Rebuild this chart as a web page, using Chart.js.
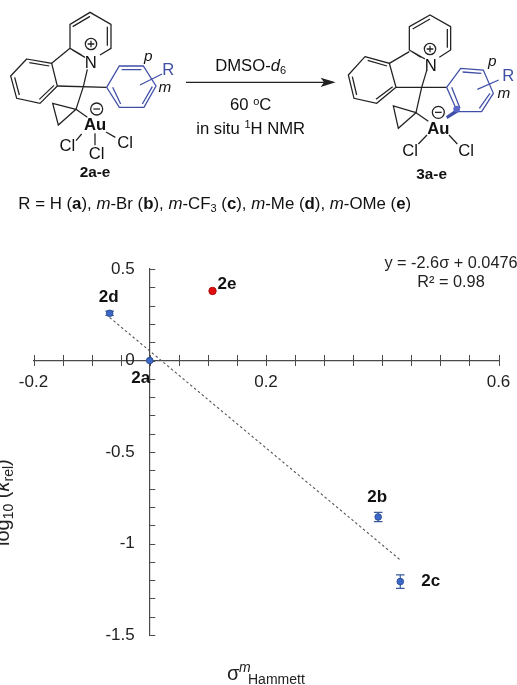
<!DOCTYPE html>
<html><head><meta charset="utf-8">
<style>
html,body{margin:0;padding:0;background:#fff;overflow:hidden}
#wrap{position:relative;width:517px;height:685px}
canvas{position:absolute;left:0;top:0}
svg{position:absolute;left:0;top:0}
svg text{font-family:"Liberation Sans",Arial,sans-serif;fill:#111}
.b{fill:none;stroke:#222;stroke-width:3.8}
.u{fill:none;stroke:#3f4fa8;stroke-width:3.8}
</style>
<script src="https://cdn.jsdelivr.net/npm/chart.js@4"></script>
</head><body><div id="wrap">
<canvas id="c" width="517" height="685"></canvas>
<svg width="517" height="240" viewBox="0 0 1551 720">
 <!-- left structure -->
 <path class="b" d="M300 165L333 145V73L270 37L210 73V145L245 165 M218 80L270 49M322 80V137M217 150L255 172"/>
 <path class="b" d="M80 177L155 190L172 258L120 310L50 295L32 228Z M88 188L148 198M162 256L118 298M58 285L44 232"/>
 <path class="b" d="M210 145L155 190M172 258L320 262M262 208L250 260L228 328M228 328L158 310L175 375ZM228 328L262 352M245 402L228 422M285 400V436M318 396L346 412"/>
 <path class="u" d="M320 262L358 198H430L468 258L432 322H358Z M365 209H424M457 260L427 312M338 262L362 312M420 255L486 222"/>
 <circle class="b" cx="273" cy="132" r="17"/><path class="b" d="M263 132H283M273 122V142"/>
 <circle class="b" cx="290" cy="327" r="18"/><path class="b" d="M280 327H300"/>
 <text x="272" y="204" font-size="50" text-anchor="middle">N</text>
 <text x="285" y="391" font-size="50" font-weight="bold" text-anchor="middle">Au</text>
 <text x="202" y="452" font-size="50" text-anchor="middle">Cl</text>
 <text x="290" y="476" font-size="50" text-anchor="middle">Cl</text>
 <text x="375" y="444" font-size="50" text-anchor="middle">Cl</text>
 <text x="445" y="184" font-size="46" font-style="italic" text-anchor="middle">p</text>
 <text x="505" y="224" font-size="50" text-anchor="middle" style="fill:#3f4fa8">R</text>
 <text x="495" y="276" font-size="46" font-style="italic" text-anchor="middle">m</text>
 <text x="285" y="530" font-size="46" font-weight="bold" text-anchor="middle">2a-e</text>
 <!-- arrow -->
 <path class="b" d="M558 247H975"/><path d="M1007 247L962 233L972 247L962 261Z" fill="#222"/>
 <text x="752" y="214" font-size="50" text-anchor="middle">DMSO-<tspan font-style="italic">d</tspan><tspan font-size="33" dy="9">6</tspan></text>
 <text x="752" y="331" font-size="50" text-anchor="middle">60 <tspan font-size="33" dy="-16">o</tspan><tspan dy="16">C</tspan></text>
 <text x="752" y="401" font-size="50" text-anchor="middle">in situ <tspan font-size="33" dy="-16">1</tspan><tspan dy="16">H NMR</tspan></text>
 <!-- right structure -->
 <path class="b" d="M1318 172L1352 150V80L1290 45L1228 80V150L1262 172 M1238 87L1290 57M1342 87V143M1236 155L1275 177"/>
 <path class="b" d="M1095 170L1168 190L1188 262L1130 310L1062 295L1045 225Z M1103 181L1161 198M1178 260L1128 298M1070 285L1057 230"/>
 <path class="b" d="M1228 155L1168 190M1188 262L1340 262M1280 212L1265 262L1248 338M1248 338L1180 318L1195 385ZM1248 338L1285 364M1281 405L1255 432M1347 405L1372 432"/>
 <path class="u" d="M1340 262L1382 205L1450 210L1480 280L1445 335H1372Z M1388 216L1444 220M1470 280L1438 325M1355 262L1380 325M1432 268L1496 240"/>
 <path d="M1370 326L1338 349L1342 357L1376 336Z" fill="#3f4fa8"/><circle cx="1370" cy="327" r="10" fill="#5a66c8"/>
 <circle class="b" cx="1290" cy="147" r="17"/><path class="b" d="M1280 147H1300M1290 137V157"/>
 <circle class="b" cx="1315" cy="337" r="18"/><path class="b" d="M1305 337H1325"/>
 <text x="1292" y="212" font-size="50" text-anchor="middle">N</text>
 <text x="1315" y="401" font-size="50" font-weight="bold" text-anchor="middle">Au</text>
 <text x="1230" y="467" font-size="50" text-anchor="middle">Cl</text>
 <text x="1398" y="467" font-size="50" text-anchor="middle">Cl</text>
 <text x="1477" y="199" font-size="46" font-style="italic" text-anchor="middle">p</text>
 <text x="1525" y="242" font-size="50" text-anchor="middle" style="fill:#3f4fa8">R</text>
 <text x="1512" y="295" font-size="46" font-style="italic" text-anchor="middle">m</text>
 <text x="1295" y="538" font-size="46" font-weight="bold" text-anchor="middle">3a-e</text>
 <!-- substituent key -->
 <text x="55" y="627" font-size="50.5">R = H (<tspan font-weight="bold">a</tspan>), <tspan font-style="italic">m</tspan>-Br (<tspan font-weight="bold">b</tspan>), <tspan font-style="italic">m</tspan>-CF<tspan font-size="33" dy="9">3</tspan><tspan dy="-9"> (</tspan><tspan font-weight="bold">c</tspan>), <tspan font-style="italic">m</tspan>-Me (<tspan font-weight="bold">d</tspan>), <tspan font-style="italic">m</tspan>-OMe (<tspan font-weight="bold">e</tspan>)</text>
</svg>
</div>
<script>
// ---- data ----
const blueLabels = ['2a', '2b', '2c', '2d'];
const blueSigma  = [0, 0.393, 0.431, -0.069];
const blueLogK   = [0, -0.855, -1.208, 0.258];
const blueError  = [0, 0.025, 0.037, 0.012];
const redLabels  = ['2e'];
const redSigma   = [0.108];
const redLogK    = [0.38];
const trendSigma = [-0.069, 0.431];
const trendLogK  = [0.235, -1.09];
const xTickLabels = [-0.2, 0.2, 0.6];
const yTickLabels = [0.5, 0, -0.5, -1, -1.5];
const equationLines = ['y = -2.6σ + 0.0476', 'R² = 0.98'];

const FONT = '"Liberation Sans", Arial, sans-serif';
const AXIS = '#4a4a4a', TEXT = '#222';
const zip = (xs, ys) => xs.map((x, i) => ({x, y: ys[i]}));
const near = (list, v) => list.some(t => Math.abs(t - v) < 1e-6);

// offsets of each mark's label relative to its point
const labelOffset = {'2a':[-9,18,'center'],'2b':[-1,-20,'center'],'2c':[21,0,'left'],'2d':[-1,-16,'center'],'2e':[5,-7,'left']};

const annotate = {
  id: 'annotate',
  beforeDatasetsDraw(chart) {
    const {ctx, scales:{x, y}} = chart;
    ctx.save();
    ctx.strokeStyle = AXIS; ctx.lineWidth = 1;
    x.ticks.forEach(t => {
      const px = Math.round(x.getPixelForValue(t.value)) + .5, py = y.getPixelForValue(0);
      ctx.beginPath(); ctx.moveTo(px, py - 5.5); ctx.lineTo(px, py + 5.5); ctx.stroke();
    });
    y.ticks.forEach(t => {
      const py = Math.round(y.getPixelForValue(t.value)) + .5, px = x.getPixelForValue(0);
      ctx.beginPath(); ctx.moveTo(px, py); ctx.lineTo(px + 5.5, py); ctx.stroke();
    });
    // y tick labels sit 15px left of the crossing axis
    ctx.fillStyle = TEXT; ctx.font = '17px ' + FONT; ctx.textAlign = 'right'; ctx.textBaseline = 'middle';
    yTickLabels.forEach(v => ctx.fillText(String(v), x.getPixelForValue(0) - 15, y.getPixelForValue(v)));
    // error bars
    ctx.strokeStyle = '#3a5a9c'; ctx.lineWidth = 1.2;
    blueSigma.forEach((s, i) => {
      if (!blueError[i]) return;
      const px = x.getPixelForValue(s);
      const a = y.getPixelForValue(blueLogK[i] + blueError[i]), b = y.getPixelForValue(blueLogK[i] - blueError[i]);
      ctx.beginPath();
      ctx.moveTo(px, a); ctx.lineTo(px, b);
      ctx.moveTo(px - 4.3, a); ctx.lineTo(px + 4.3, a);
      ctx.moveTo(px - 4.3, b); ctx.lineTo(px + 4.3, b);
      ctx.stroke();
    });
    ctx.restore();
  },
  afterDatasetsDraw(chart) {
    const {ctx, scales:{x, y}} = chart;
    ctx.save();
    ctx.fillStyle = '#111'; ctx.textBaseline = 'middle';
    ctx.font = 'bold 17px ' + FONT;
    const put = (l, sx, sy) => {
      const o = labelOffset[l]; ctx.textAlign = o[2];
      ctx.fillText(l, x.getPixelForValue(sx) + o[0], y.getPixelForValue(sy) + o[1]);
    };
    blueLabels.forEach((l, i) => put(l, blueSigma[i], blueLogK[i]));
    redLabels.forEach((l, i) => put(l, redSigma[i], redLogK[i]));
    // equation
    ctx.fillStyle = TEXT; ctx.font = '16.3px ' + FONT; ctx.textAlign = 'center';
    ctx.fillText(equationLines[0], 451, 264);
    ctx.fillText(equationLines[1], 451, 283);
    // x-axis title
    ctx.textAlign = 'left'; ctx.textBaseline = 'alphabetic';
    ctx.font = '20px ' + FONT; ctx.fillText('σ', 227, 680);
    ctx.font = 'italic 14px ' + FONT; ctx.fillText('m', 239, 672);
    ctx.font = '14px ' + FONT; ctx.fillText('Hammett', 248, 684);
    // y-axis title (clipped by the page edge, as in the source)
    ctx.translate(9, 546); ctx.rotate(-Math.PI / 2);
    let cx = 0;
    const run = (s, f, dy) => { ctx.font = f + ' ' + FONT; ctx.fillText(s, cx, dy); cx += ctx.measureText(s).width; };
    run('log', '20px', 0); run('10', '14px', 4); run(' (', '20px', 0);
    run('k', 'italic 20px', 0); run('rel', '14px', 4); run(')', '20px', 0);
    ctx.restore();
  }
};

new Chart(document.getElementById('c'), {
  type: 'scatter',
  plugins: [annotate],
  data: { datasets: [
    { label: 'fit', data: zip(trendSigma, trendLogK), showLine: true, pointRadius: 0, order: 3,
      borderColor: '#555', borderWidth: 1.1, borderDash: [2.5, 2.5], fill: false },
    { label: 'meta', data: zip(blueSigma, blueLogK), order: 1, pointRadius: 3.3,
      backgroundColor: '#3b68c8', borderColor: '#2d4f96', borderWidth: 1 },
    { label: 'OMe', data: zip(redSigma, redLogK), order: 2, pointRadius: 3.7,
      backgroundColor: '#e00d0d', borderColor: '#b00d0d', borderWidth: 1 }
  ]},
  options: {
    responsive: false, animation: false, devicePixelRatio: 1,
    layout: { padding: { left: 33.5, right: 18.5, top: 269, bottom: 50 } },
    plugins: { legend: {display: false}, tooltip: {enabled: false}, title: {display: false} },
    scales: {
      x: { type: 'linear', min: -0.2, max: 0.6, position: {y: 0},
        grid: {display: false, drawTicks: false},
        border: {display: true, color: AXIS, width: 1.2},
        afterFit: s => { s.paddingLeft = 0; s.paddingRight = 0; },
        ticks: { stepSize: 0.05, autoSkip: false, maxRotation: 0, padding: 12, color: TEXT,
          font: {size: 17, family: FONT},
          callback: v => near(xTickLabels, v) ? String(Math.round(v * 10) / 10) : '' } },
      y: { type: 'linear', min: -1.5, max: 0.5, position: {x: 0},
        grid: {display: false, drawTicks: false},
        border: {display: true, color: AXIS, width: 1.2},
        ticks: { stepSize: 0.1, autoSkip: false, display: false } }
    }
  }
});
</script>
</body></html>
